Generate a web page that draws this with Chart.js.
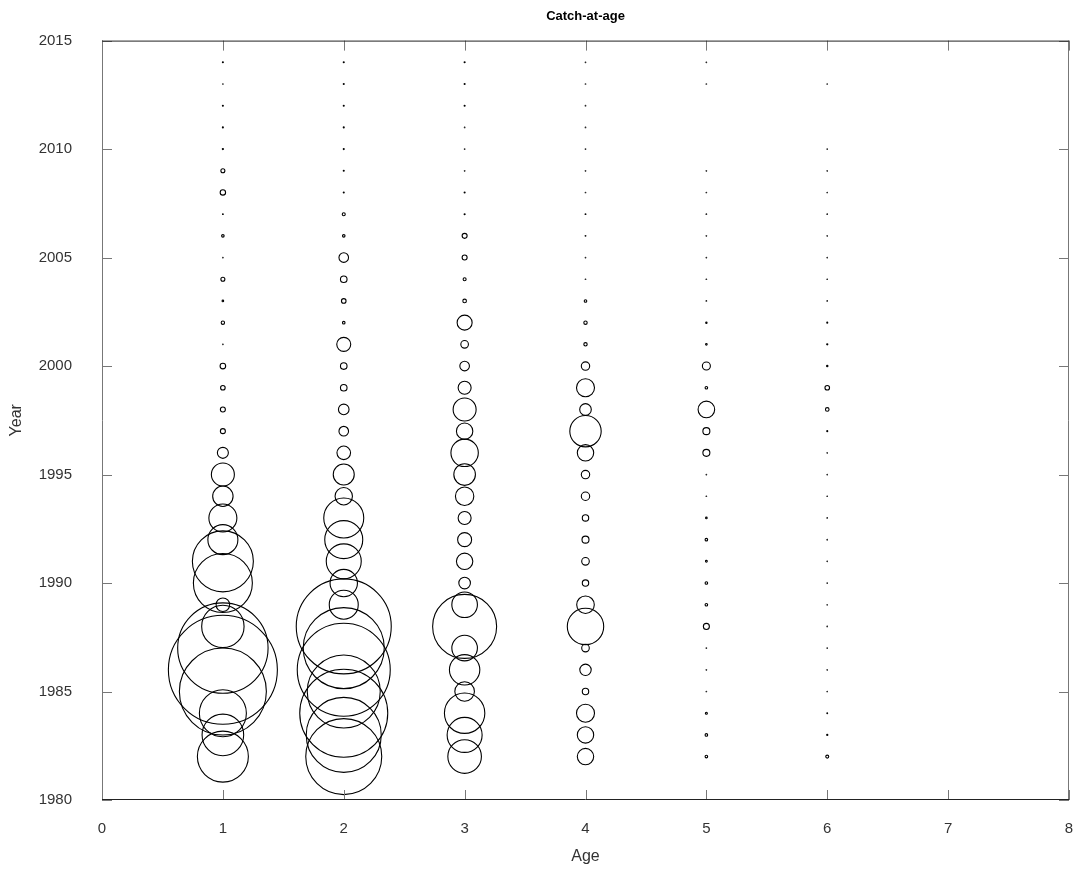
<!DOCTYPE html>
<html>
<head>
<meta charset="utf-8">
<script src="https://cdn.jsdelivr.net/npm/chart.js@4"></script>
<style>
  html, body { margin: 0; padding: 0; background: #fff; }
  #wrap { width: 1075px; height: 873px; }
</style>
</head>
<body>
<div id="wrap"><canvas id="caa" width="1075" height="873"></canvas></div>
<script>
// years 1982..2014
const years = [1982,1983,1984,1985,1986,1987,1988,1989,1990,1991,1992,1993,1994,1995,1996,1997,1998,
               1999,2000,2001,2002,2003,2004,2005,2006,2007,2008,2009,2010,2011,2012,2013,2014];
const ages = [1, 2, 3, 4, 5, 6];

// catch numbers per age, one value per year (null = no observation)
const catchAge1 = [6760,4537,5760,19360,30250,20885,4709,533,9000,9610,2403,2103,1145,1440,360,90,90,78,109,6,48,17,63,6,32,8,102,63,12,10,10,3,10];
const catchAge2 = [14823,14440,19803,13690,22090,16810,23040,2250,2016,3240,3803,4203,846,1210,533,281,336,144,144,563,32,78,144,281,32,40,10,10,10,10,10,10,10];
const catchAge3 = [2993,3240,4285,1061,2465,1769,10563,1769,397,757,563,490,941,1277,2016,757,1440,490,281,185,640,53,40,90,90,10,10,3,3,3,10,10,10];
const catchAge4 = [757,757,903,137,384,185,3497,865,137,185,160,137,221,221,757,2624,397,903,221,48,48,32,4,6,8,8,2,1,1,1,1,3,2];
const catchAge5 = [32,32,23,6,6,6,123,32,32,20,32,17,6,6,160,160,774,32,203,17,14,5,2,1,1,1,1,1,null,null,null,1,1];
const catchAge6 = [40,12,8,1,0.4,0.4,2.5,2.5,2.5,2.5,1.6,1.6,1,1.6,2.5,10,53,78,14,12,10,5,2,1,1,1,1,1,1,null,null,1,null];

const xTicks = [0,1,2,3,4,5,6,7,8];
const yTicks = [1980,1985,1990,1995,2000,2005,2010,2015];

const catchByAge = [catchAge1, catchAge2, catchAge3, catchAge4, catchAge5, catchAge6];

// bubble area proportional to catch
const toRadius = (v) => Math.max(Math.sqrt(v / 10) - 0.5, 0.3);

const points = [];
ages.forEach((age, i) => {
  catchByAge[i].forEach((v, j) => {
    if (v === null) return;
    points.push({ x: age, y: years[j], r: toRadius(v) });
  });
});

// inward ticks on all four sides + frame
const frame = {
  id: 'frame',
  afterDatasetsDraw(chart) {
    const { ctx, chartArea: a, scales: { x, y } } = chart;
    ctx.save();
    ctx.lineWidth = 1;
    ctx.strokeStyle = '#777';
    ctx.beginPath();
    xTicks.forEach(t => {
      const px = Math.round(x.getPixelForValue(t)) + 0.5;
      ctx.moveTo(px, a.bottom); ctx.lineTo(px, a.bottom - 10);
      ctx.moveTo(px, a.top); ctx.lineTo(px, a.top + 10);
    });
    yTicks.forEach(t => {
      const py = Math.round(y.getPixelForValue(t)) + 0.5;
      ctx.moveTo(a.left, py); ctx.lineTo(a.left + 10, py);
      ctx.moveTo(a.right, py); ctx.lineTo(a.right - 10, py);
    });
    ctx.stroke();
    // left / right sides grey
    ctx.beginPath();
    ctx.moveTo(a.left + 0.5, a.top); ctx.lineTo(a.left + 0.5, a.bottom);
    ctx.moveTo(a.right - 0.5, a.top); ctx.lineTo(a.right - 0.5, a.bottom);
    ctx.stroke();
    // top / bottom dark
    ctx.strokeStyle = '#222';
    ctx.beginPath();
    ctx.moveTo(a.left, a.top + 0.5); ctx.lineTo(a.right, a.top + 0.5);
    ctx.moveTo(a.left, a.bottom - 0.5); ctx.lineTo(a.right, a.bottom - 0.5);
    ctx.stroke();
    ctx.restore();
  }
};

new Chart(document.getElementById('caa'), {
  type: 'bubble',
  data: {
    datasets: [{
      data: points,
      backgroundColor: 'rgba(0,0,0,0)',
      borderColor: '#000',
      borderWidth: 1.1,
      hoverBorderWidth: 1.1
    }]
  },
  options: {
    responsive: false,
    animation: false,
    events: [],
    layout: { autoPadding: false, padding: { left: 0, right: 6, top: 0, bottom: 0 } },
    plugins: {
      legend: { display: false },
      tooltip: { enabled: false },
      title: {
        display: true,
        text: 'Catch-at-age',
        fullSize: false,
        color: '#000',
        font: { family: '"Liberation Sans", Arial, sans-serif', size: 13, weight: 'bold' },
        padding: { top: 9, bottom: 16 }
      }
    },
    scales: {
      x: {
        type: 'linear',
        min: 0, max: 8,
        grid: { display: false },
        border: { display: false },
        afterFit: (s) => { s.height = 73; s.paddingLeft = 0; s.paddingRight = 0; },
        ticks: {
          stepSize: 1,
          padding: 12,
          color: '#333',
          font: { family: '"Liberation Sans", Arial, sans-serif', size: 15 }
        },
        title: {
          display: true,
          text: 'Age',
          color: '#333',
          padding: { top: 0, bottom: 7 },
          font: { family: '"Liberation Sans", Arial, sans-serif', size: 16 }
        }
      },
      y: {
        type: 'linear',
        min: 1980, max: 2015,
        grid: { display: false },
        border: { display: false },
        afterFit: (s) => { s.width = 102; s.paddingTop = 0; s.paddingBottom = 0; },
        ticks: {
          stepSize: 5,
          padding: 22,
          color: '#333',
          font: { family: '"Liberation Sans", Arial, sans-serif', size: 15 },
          callback: (v) => String(v)
        },
        title: {
          display: true,
          text: 'Year',
          color: '#333',
          padding: { top: 7, bottom: 0 },
          font: { family: '"Liberation Sans", Arial, sans-serif', size: 16 }
        }
      }
    }
  },
  plugins: [frame]
});
</script>
</body>
</html>
